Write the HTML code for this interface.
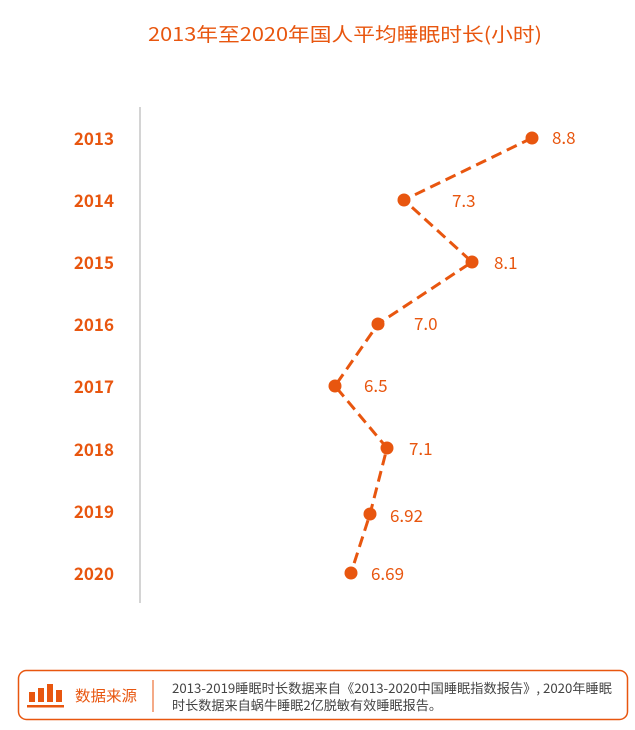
<!DOCTYPE html>
<html><head><meta charset="utf-8"><style>
body{margin:0;width:635px;height:730px;background:#fff;overflow:hidden}
</style></head><body>
<svg width="635" height="730" xmlns="http://www.w3.org/2000/svg" style="position:absolute;left:0;top:0">
<g font-family="Noto Sans CJK SC, sans-serif" fill="#e8560f">
<text x="345" y="41" text-anchor="middle" font-size="19" textLength="394" lengthAdjust="spacingAndGlyphs">2013年至2020年国人平均睡眠时长(小时)</text>
<line x1="140" y1="107" x2="140" y2="603" stroke="#aaa" stroke-width="1"/>
<g font-size="17" font-weight="bold" text-anchor="end">
<text x="114" y="145">2013</text><text x="114" y="207">2014</text><text x="114" y="269">2015</text><text x="114" y="331">2016</text>
<text x="114" y="393">2017</text><text x="114" y="456">2018</text><text x="114" y="518">2019</text><text x="114" y="580">2020</text>
</g>
<polyline points="532,138 404,200 472,262 378,324 335,386 387,448 370,514 351,573" fill="none" stroke="#e8560f" stroke-width="3" stroke-dasharray="11,6"/>
<g><circle cx="532" cy="138" r="6.5"/><circle cx="404" cy="200" r="6.5"/><circle cx="472" cy="262" r="6.5"/><circle cx="378" cy="324" r="6.5"/><circle cx="335" cy="386" r="6.5"/><circle cx="387" cy="448" r="6.5"/><circle cx="370" cy="514" r="6.5"/><circle cx="351" cy="573" r="6.5"/></g>
<g font-size="17">
<text x="552" y="144">8.8</text><text x="452" y="207">7.3</text><text x="494" y="269">8.1</text><text x="414" y="330">7.0</text>
<text x="364" y="392">6.5</text><text x="409" y="455">7.1</text><text x="390" y="522">6.92</text><text x="371" y="580">6.69</text>
</g>
<rect x="18.5" y="670.5" width="609" height="49" rx="8" fill="none" stroke="#e8560f" stroke-width="1.5"/>
<rect x="29" y="692" width="6" height="10"/><rect x="38" y="688" width="6" height="14"/><rect x="47" y="684" width="6" height="18"/><rect x="56" y="690" width="6" height="12"/>
<rect x="27" y="705" width="37" height="2.5"/>
<text x="75" y="701" font-size="15" textLength="62" lengthAdjust="spacingAndGlyphs">数据来源</text>
<line x1="153" y1="680" x2="153" y2="712" stroke="#e8560f" stroke-width="1"/>
<g font-size="13" fill="#444"><text x="172" y="693" textLength="440" lengthAdjust="spacingAndGlyphs">2013-2019睡眠时长数据来自《2013-2020中国睡眠指数报告》, 2020年睡眠</text>
<text x="172" y="710" textLength="270" lengthAdjust="spacingAndGlyphs">时长数据来自蜗牛睡眠2亿脱敏有效睡眠报告。</text></g>
</g></svg>
</body></html>
